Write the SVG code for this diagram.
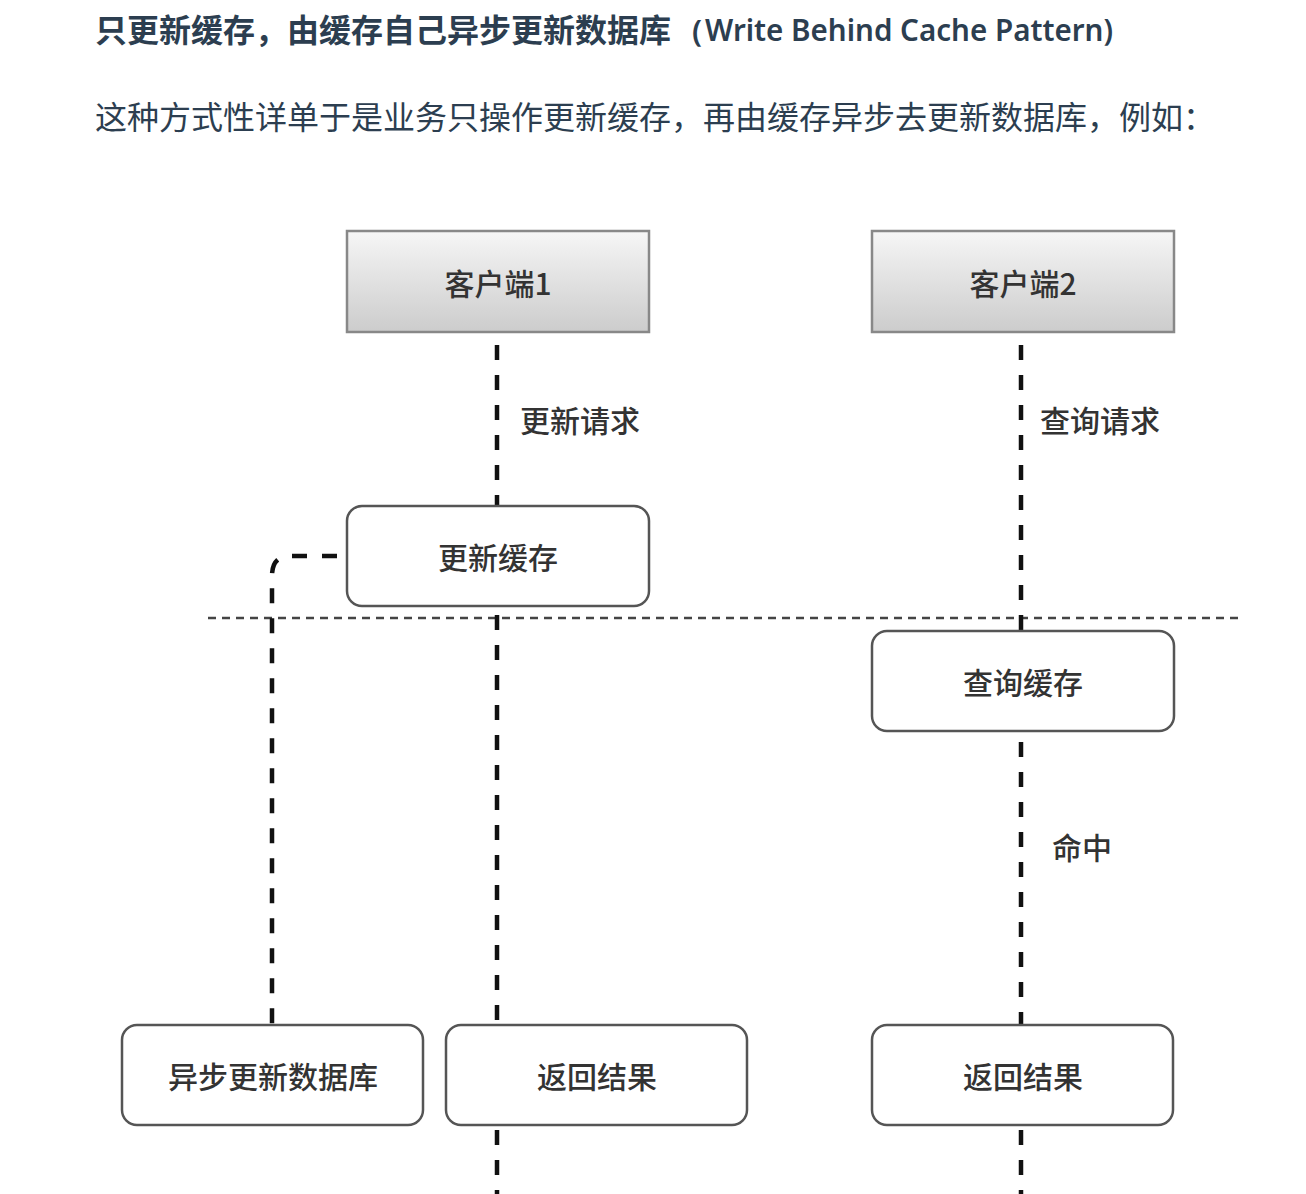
<svg xmlns="http://www.w3.org/2000/svg" width="1306" height="1194" viewBox="0 0 1306 1194">
<defs>
<linearGradient id="g" x1="0" y1="0" x2="0" y2="1">
<stop offset="0" stop-color="#f6f6f6"/>
<stop offset="1" stop-color="#cccccc"/>
</linearGradient>
<style>
.h{font-family:"Noto Sans CJK SC",sans-serif;font-weight:bold;font-size:32px;fill:#2c3e50}
.hl{font-family:"Noto Sans","Open Sans",sans-serif;font-weight:600;font-size:31px;fill:#2c3e50}
.p{font-family:"Noto Sans CJK SC",sans-serif;font-size:32px;fill:#2c3e50}
.t{font-family:"Noto Sans CJK SC",sans-serif;font-size:30px;font-weight:500;fill:#333;text-anchor:middle;dominant-baseline:central}
.l{font-family:"Noto Sans CJK SC",sans-serif;font-size:30px;font-weight:500;fill:#333;dominant-baseline:central}
.hd{fill:url(#g);stroke:#888;stroke-width:2.5}
.bx{fill:#fff;stroke:#555;stroke-width:2.5}
.dl{fill:none;stroke:#111;stroke-width:4.5;stroke-dasharray:15 15}
.sep{fill:none;stroke:#444;stroke-width:2.5;stroke-dasharray:8 6}
</style>
</defs>
<rect width="1306" height="1194" fill="#fff"/>
<text class="h" x="95" y="42">只更新缓存，由缓存自己异步更新数据库</text>
<text class="hl" x="692" y="42">(</text>
<text class="hl" x="705" y="41" textLength="408" lengthAdjust="spacingAndGlyphs">Write Behind Cache Pattern)</text>
<text class="p" x="95" y="129">这种方式性详单于是业务只操作更新缓存，再由缓存异步去更新数据库，例如：</text>

<g id="connectors">
<line class="sep" x1="208" y1="618" x2="1238" y2="618"/>
<line class="dl" x1="497" y1="345" x2="497" y2="506"/>
<line class="dl" x1="497" y1="615" x2="497" y2="1025"/>
<line class="dl" x1="497" y1="1130" x2="497" y2="1194"/>
<line class="dl" x1="1021" y1="345" x2="1021" y2="631"/>
<line class="dl" x1="1021" y1="742" x2="1021" y2="1025"/>
<line class="dl" x1="1021" y1="1130" x2="1021" y2="1194"/>
<path class="dl" d="M345 556 L290 556 Q272 556 272 576 L272 1025" stroke-dashoffset="22"/>
<text class="l" x="520" y="419">更新请求</text>
<text class="l" x="1040" y="419">查询请求</text>
<text class="l" x="1052" y="846">命中</text>
</g>

<g id="client1">
<rect class="hd" x="347" y="231" width="302" height="101"/>
<text class="t" x="498" y="282">客户端1</text>
</g>
<g id="client2">
<rect class="hd" x="872" y="231" width="302" height="101"/>
<text class="t" x="1023" y="282">客户端2</text>
</g>
<g id="update-cache">
<rect class="bx" x="347" y="506" width="302" height="100" rx="15"/>
<text class="t" x="498" y="556">更新缓存</text>
</g>
<g id="query-cache">
<rect class="bx" x="872" y="631" width="302" height="100" rx="15"/>
<text class="t" x="1023" y="681">查询缓存</text>
</g>
<g id="async-db">
<rect class="bx" x="122" y="1025" width="301" height="100" rx="15"/>
<text class="t" x="273" y="1075">异步更新数据库</text>
</g>
<g id="return1">
<rect class="bx" x="446" y="1025" width="301" height="100" rx="15"/>
<text class="t" x="597" y="1075">返回结果</text>
</g>
<g id="return2">
<rect class="bx" x="872" y="1025" width="301" height="100" rx="15"/>
<text class="t" x="1023" y="1075">返回结果</text>
</g>
</svg>
